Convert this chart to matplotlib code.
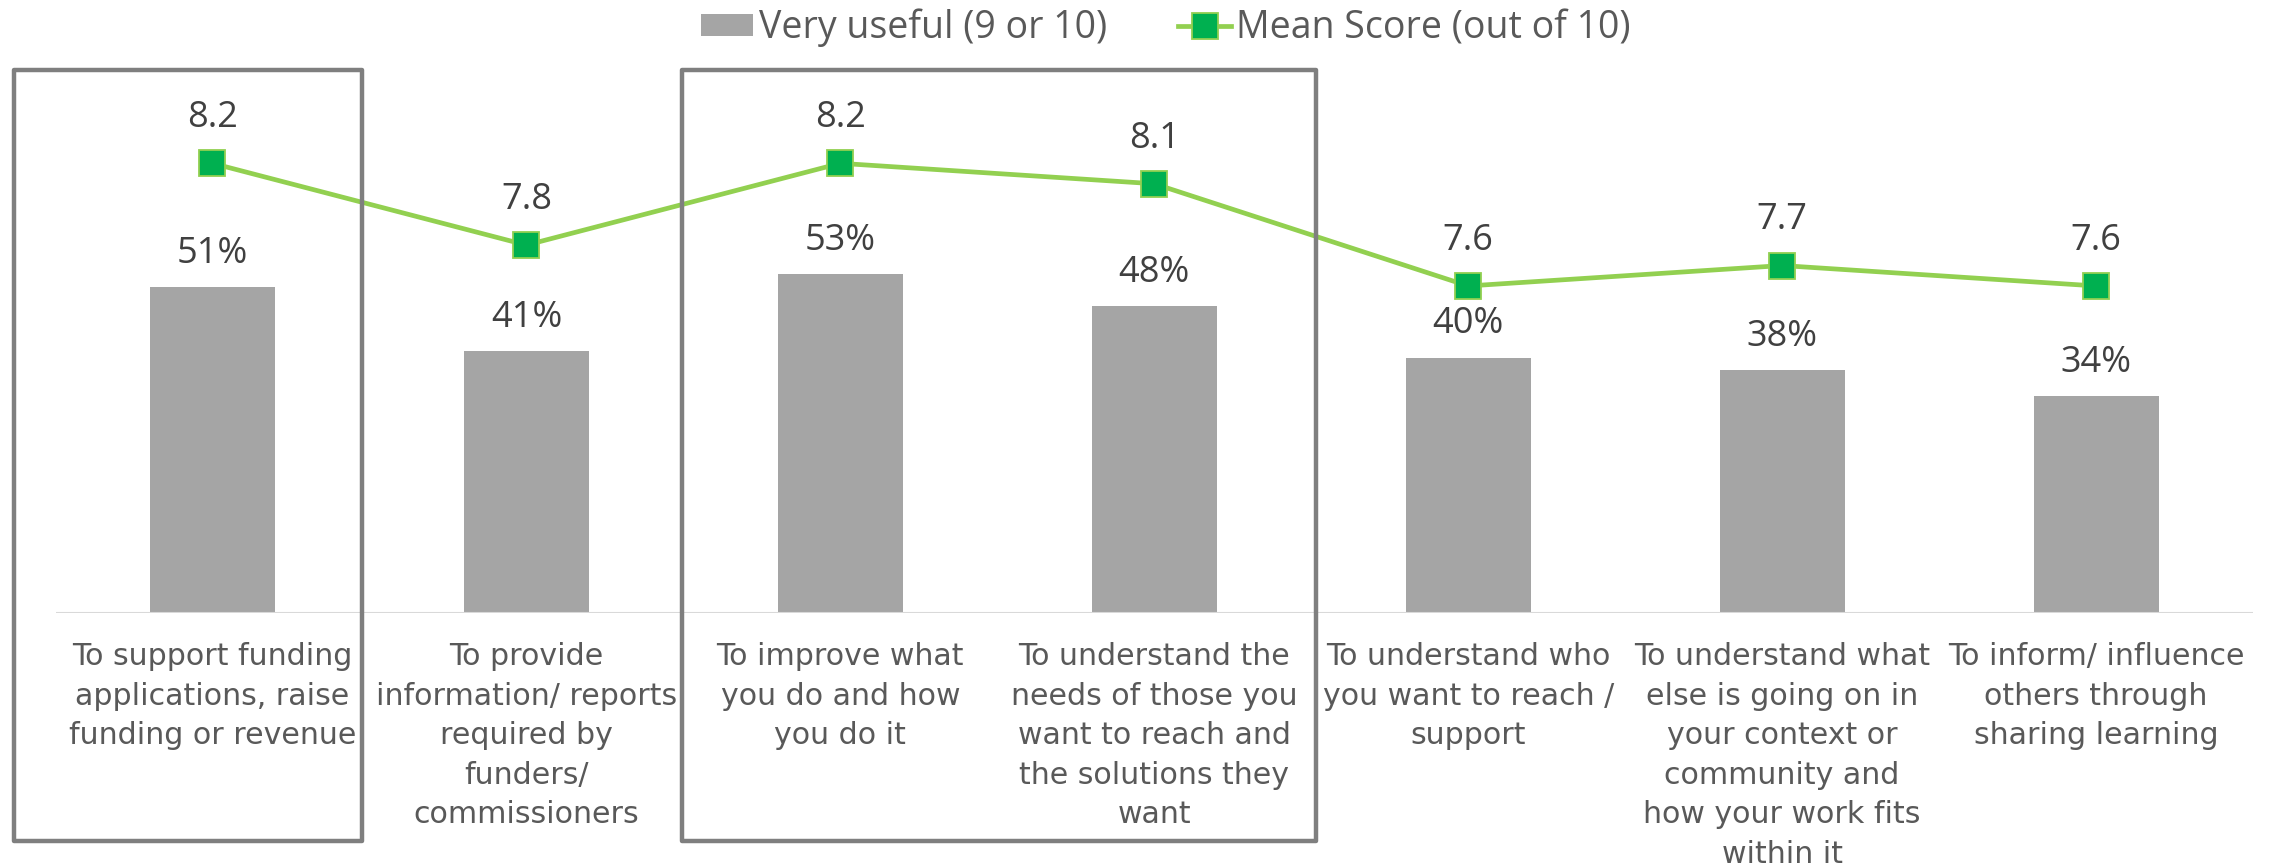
import matplotlib
matplotlib.use("Agg")
import matplotlib.pyplot as plt
from matplotlib.patches import Patch, Rectangle
from matplotlib.lines import Line2D
from matplotlib.transforms import blended_transform_factory

# ---- data ----
categories = [
    "To support funding\napplications, raise\nfunding or revenue",
    "To provide\ninformation/ reports\nrequired by\nfunders/\ncommissioners",
    "To improve what\nyou do and how\nyou do it",
    "To understand the\nneeds of those you\nwant to reach and\nthe solutions they\nwant",
    "To understand who\nyou want to reach /\nsupport",
    "To understand what\nelse is going on in\nyour context or\ncommunity and\nhow your work fits\nwithin it",
    "To inform/ influence\nothers through\nsharing learning",
]
very_useful_pct = [51, 41, 53, 48, 40, 38, 34]
mean_score = [8.2, 7.8, 8.2, 8.1, 7.6, 7.7, 7.6]
bar_label = "Very useful (9 or 10)"
line_label = "Mean Score (out of 10)"

# ---- style ----
W, H, DPI = 2272, 866, 100
BAR_COLOR = "#a5a5a5"
LINE_COLOR = "#92d050"
MARKER_FACE = "#00b050"
BOX_COLOR = "#7f7f7f"
LABEL_COLOR = "#404040"
CAT_COLOR = "#595959"
VAL_FONT = ["Open Sans", "DejaVu Sans"]
CAT_FONT = ["DejaVu Sans"]

fig = plt.figure(figsize=(W / DPI, H / DPI), dpi=DPI)
fig.patch.set_facecolor("white")

left_px, right_px, base_px, top_px = 55.5, 2253, 613, 102
ax = fig.add_axes([left_px / W, (H - base_px) / H,
                   (right_px - left_px) / W, (base_px - top_px) / H])
ax2 = ax.twinx()

x = list(range(len(categories)))
ax.bar(x, very_useful_pct, width=0.398, color=BAR_COLOR, zorder=2)
ax.set_xlim(-0.5, len(categories) - 0.5)
ax.set_ylim(0, 80)
ax.axhline(0, color="#d9d9d9", lw=1.5, zorder=3)

ax2.plot(x, mean_score, color=LINE_COLOR, lw=3.4, marker="s", markersize=18.5,
         markerfacecolor=MARKER_FACE, markeredgecolor=LINE_COLOR,
         markeredgewidth=1.3, zorder=4)
ax2.set_ylim(6.0, 8.5)

for a in (ax, ax2):
    for s in a.spines.values():
        s.set_visible(False)
    a.set_yticks([])
ax2.set_zorder(ax.get_zorder() + 1)
ax2.patch.set_visible(False)

ax.set_xticks(x)
ax.set_xticklabels(categories, fontsize=21.6, color=CAT_COLOR,
                   family=CAT_FONT, linespacing=1.46)
ax.tick_params(axis="x", length=0, pad=21)

for xi, v in zip(x, very_useful_pct):
    ax.annotate(f"{v}%", (xi, v), xytext=(0, 17.3), textcoords="offset points",
                ha="center", va="baseline", fontsize=26, color=LABEL_COLOR,
                family=VAL_FONT, zorder=5)
for xi, v in zip(x, mean_score):
    ax2.annotate(f"{v:.1f}", (xi, v), xytext=(0, 26), textcoords="offset points",
                 ha="center", va="baseline", fontsize=26, color=LABEL_COLOR,
                 family=VAL_FONT, zorder=5)

# highlight boxes (x in category units, y in figure fraction)
trans = blended_transform_factory(ax.transData, fig.transFigure)
box_bottom, box_top = (H - 841) / H, (H - 70) / H
for x0, x1 in [(-0.632, 0.476), (1.495, 3.515)]:
    r = Rectangle((x0, box_bottom), x1 - x0, box_top - box_bottom,
                  transform=trans, fill=False, edgecolor=BOX_COLOR,
                  linewidth=3.2, joinstyle="round", clip_on=False, zorder=10)
    fig.add_artist(r)

handles = [
    Patch(facecolor=BAR_COLOR, edgecolor="none"),
    Line2D([], [], color=LINE_COLOR, lw=3.4, marker="s", markersize=18.5,
           markerfacecolor=MARKER_FACE, markeredgecolor=LINE_COLOR,
           markeredgewidth=1.3),
]
leg = fig.legend(handles, [bar_label, line_label], loc="center",
                 bbox_to_anchor=(1166 / W, 1 - 28 / H), ncol=2, frameon=False,
                 prop={"family": VAL_FONT, "size": 27},
                 handlelength=1.39, handleheight=0.55, handletextpad=0.15,
                 columnspacing=1.9, borderaxespad=0, borderpad=0)
for t in leg.get_texts():
    t.set_color("#595959")

fig.savefig("out.png", dpi=DPI, facecolor="white")
